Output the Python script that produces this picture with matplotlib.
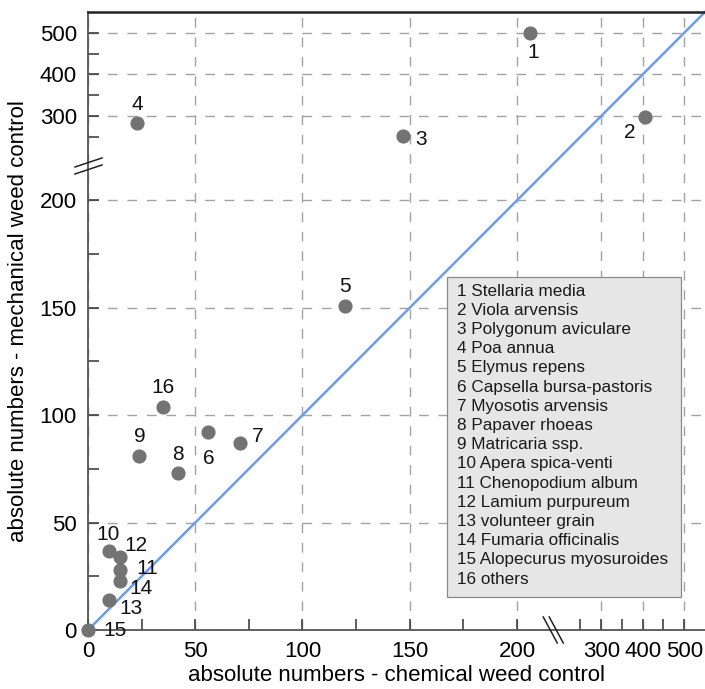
import numpy as np
import matplotlib
matplotlib.use("Agg")
import matplotlib.pyplot as plt
from matplotlib.patches import Rectangle
import matplotlib.transforms as mtransforms

plt.rcParams['font.family'] = ['Liberation Sans', 'DejaVu Sans']

# ---------------- data ----------------
ids = [1, 2, 3, 4, 5, 6, 7, 8, 9, 10, 11, 12, 13, 14, 15, 16]
species = ["Stellaria media", "Viola arvensis", "Polygonum aviculare", "Poa annua",
           "Elymus repens", "Capsella bursa-pastoris", "Myosotis arvensis",
           "Papaver rhoeas", "Matricaria ssp.", "Apera spica-venti",
           "Chenopodium album", "Lamium purpureum", "volunteer grain",
           "Fumaria officinalis", "Alopecurus myosuroides", "others"]
chemical = [206, 406, 147, 23, 120, 56, 71, 42, 24, 10, 15, 15, 10, 15, 0, 35]
mechanical = [500, 298, 252, 283, 151, 92, 87, 73, 81, 37, 28, 34, 14, 23, 0, 104]

major_ticks = [0, 50, 100, 150, 200, 300, 400, 500]
minor_ticks = [25, 75, 125, 175, 250, 350, 450]
axis_max = 550
diag = [0, 200, 300, 550]

# label offsets (pixels) relative to points
offsets = {1: (3, -20), 2: (-15, -16), 3: (18, -4), 4: (0, 18), 5: (0, 19),
           6: (1, -26), 7: (17, 7), 8: (0, 19), 9: (0, 19), 10: (-1, 16),
           11: (27, 1), 12: (16, 11), 13: (22, -9), 14: (21, -8), 15: (27, -1),
           16: (0, 19)}

# ---------------- broken scale ----------------
B = 216.0
U300 = 239.3
S = 0.1935
UJ = U300 + (B - 300) * S


def fwd(v):
    v = np.asarray(v, dtype=float)
    return np.where(v <= B, v, U300 + (v - 300) * S)


def inv(u):
    u = np.asarray(u, dtype=float)
    return np.where(u <= B, u, np.where(u < UJ, B, 300 + (u - U300) / S))


fig = plt.figure(figsize=(7.05, 6.89), dpi=100)
ax = fig.add_axes([88 / 705, 1 - 630 / 689, 617 / 705, 618 / 689])
ax.set_xscale('function', functions=(fwd, inv))
ax.set_yscale('function', functions=(fwd, inv))
ax.set_xlim(0, axis_max)
ax.set_ylim(0, axis_max)

ax.set_xticks(major_ticks)
ax.set_yticks(major_ticks)
ax.set_xticks(minor_ticks, minor=True)
ax.set_yticks(minor_ticks, minor=True)
ax.set_xticklabels([str(t) for t in major_ticks])
ax.set_yticklabels([str(t) for t in major_ticks])
ax.tick_params(which='both', direction='in', length=8, width=1.1, color='#333333',
               labelsize=16, pad=8, top=False, right=False)

ax.grid(True, which='major', color='#a3a3a3', linestyle=(0, (7, 7)), linewidth=1.0, zorder=0)
ax.set_axisbelow(True)

ax.spines['right'].set_visible(False)
ax.spines['top'].set_color('#222222')
ax.spines['top'].set_linewidth(1.8)
for s in ['left', 'bottom']:
    ax.spines[s].set_color('#555555')
    ax.spines[s].set_linewidth(1.3)

# diagonal
ax.plot(diag, diag, color='#6a9cf2', lw=1.8, zorder=2, clip_on=False)

# points
ax.plot(chemical, mechanical, 'o', ms=9.2, color='#737373', mec='#737373', zorder=4, clip_on=False)
for i, x, y in zip(ids, chemical, mechanical):
    dx, dy = offsets[i]
    ax.annotate(str(i), (x, y), xytext=(dx, dy), textcoords='offset pixels',
                ha='center', va='center', fontsize=15, color='#111111', zorder=5)

# legend box
ax.add_patch(Rectangle((0.582, 0.0534), 0.379, 0.5176, transform=ax.transAxes,
                       facecolor='#e6e6e6', edgecolor='#8a8a8a', lw=0.9, zorder=3))
y0 = 0.5485
dy = 19.2 / 618
for k, (i, name) in enumerate(zip(ids, species)):
    ax.text(0.598, y0 - k * dy, f"{i} {name}", transform=ax.transAxes,
            ha='left', va='center', fontsize=12.3, color='#1a1a1a', zorder=4)

# break marks (pixel offsets around the break position on each axis)
fig.canvas.draw()
anchor_y = mtransforms.blended_transform_factory(ax.transAxes, ax.transData).transform((0, B))
anchor_x = mtransforms.blended_transform_factory(ax.transData, ax.transAxes).transform((B, 0))
for segs, anc in [([((-13, -8), (14, 1)), ((-13, -1), (14, 8))], anchor_y),
                  ([((-8, 13), (6, -13)), ((-2, 13), (12, -13))], anchor_x)]:
    for (x1, y1), (x2, y2) in segs:
        line = plt.Line2D([anc[0] + x1, anc[0] + x2], [anc[1] + y1, anc[1] + y2],
                          color='#222222', lw=1.1, transform=mtransforms.IdentityTransform())
        fig.add_artist(line)

ax.set_xlabel("absolute numbers - chemical weed control", fontsize=16, labelpad=2)
ax.set_ylabel("absolute numbers - mechanical weed control", fontsize=16, labelpad=8)

fig.savefig("out.png", dpi=100)
